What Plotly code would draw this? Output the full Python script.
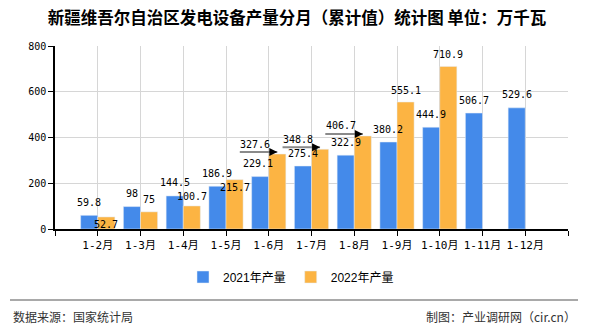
import plotly.graph_objects as go

# ---- data ----
categories = ["1-2月", "1-3月", "1-4月", "1-5月", "1-6月", "1-7月", "1-8月", "1-9月", "1-10月", "1-11月", "1-12月"]
values_2021 = [59.8, 98, 144.5, 186.9, 229.1, 275.4, 322.9, 380.2, 444.9, 506.7, 529.6]
values_2022 = [52.7, 75, 100.7, 215.7, 327.6, 348.8, 406.7, 555.1, 710.9, None, None]
series_names = ["2021年产量", "2022年产量"]
y_ticks = [0, 200, 400, 600, 800]

# ---- label placement (styling, px offsets) ----
label_shift_2021 = [13] * 11
label_xshift_2021 = [0, 0, 0, 0, -2, 0, 0, 0, 0, 0, 0]
label_shift_2022 = [-8, 12, 9, -8, None, None, None, 12, 12, None, None]  # None -> arrow label
arrow_labels_2022 = [4, 5, 6]

W, H = 590, 330
ML, MR, MT, MB = 55, 22, 46, 101
plot_h = H - MT - MB
plot_w = W - ML - MR


def py2paper(py):
    return (H - MB - py) / plot_h


def px2paper(px):
    return (px - ML) / plot_w


BLUE = "#448AEA"
ORANGE = "#FCB443"
MONO = "'DejaVu Sans Mono', 'Noto Sans CJK SC'"
SANS = "'Liberation Sans', 'Noto Sans CJK SC'"

x_idx = list(range(len(categories)))

fig = go.Figure()
fig.add_trace(go.Bar(x=x_idx, y=values_2021, name=series_names[0], marker_color=BLUE,
                     hoverinfo="y"))
fig.add_trace(go.Bar(x=x_idx, y=values_2022, name=series_names[1], marker_color=ORANGE,
                     hoverinfo="y"))

annotations = []
off = 0.2  # half of a bar slot in group mode (bargap 0.2, 2 series)
for i, v in enumerate(values_2021):
    if v is None:
        continue
    annotations.append(dict(x=i - off, y=v, xref="x", yref="y", text=f"{v:g}", showarrow=False,
                            yanchor="middle", yshift=label_shift_2021[i], xshift=label_xshift_2021[i],
                            font=dict(family=MONO, size=10, color="#000")))
for i, v in enumerate(values_2022):
    if v is None:
        continue
    if i in arrow_labels_2022:
        # gray leader line
        annotations.append(dict(x=i + off, y=v, xref="x", yref="y", text="", showarrow=True,
                                ax=-39, ay=0, arrowhead=0, arrowwidth=2, arrowcolor="#8a8a8a",
                                standoff=0, yshift=2))
        # black arrow head
        annotations.append(dict(x=i + off, y=v, xref="x", yref="y", text="", showarrow=True,
                                ax=-4, ay=0, arrowhead=2, arrowsize=0.8, arrowwidth=2,
                                arrowcolor="#000", standoff=0, yshift=2))
        annotations.append(dict(x=i + off, y=v, xref="x", yref="y", text=f"{v:g}", showarrow=False,
                                yanchor="middle", yshift=10, xshift=-22,
                                font=dict(family=MONO, size=10, color="#000")))
    else:
        annotations.append(dict(x=i + off, y=v, xref="x", yref="y", text=f"{v:g}", showarrow=False,
                                yanchor="middle", yshift=label_shift_2022[i],
                                font=dict(family=MONO, size=10, color="#000")))

# footer texts
annotations.append(dict(x=px2paper(11), y=py2paper(316), xref="paper", yref="paper",
                        text="数据来源：国家统计局", showarrow=False, xanchor="left", yanchor="middle",
                        font=dict(family="'Noto Sans CJK SC'", size=12, color="#333")))
annotations.append(dict(x=px2paper(578), y=py2paper(316), xref="paper", yref="paper",
                        text="制图：产业调研网（cir.cn）", showarrow=False, xanchor="right", yanchor="middle",
                        font=dict(family="'Noto Sans CJK SC'", size=12, color="#333")))

shapes = [dict(type="line", xref="paper", yref="paper",
               x0=px2paper(10), x1=px2paper(578), y0=py2paper(300), y1=py2paper(300),
               line=dict(color="#8c8c8c", width=1.5))]

fig.update_layout(
    width=W, height=H,
    margin=dict(l=ML, r=MR, t=MT, b=MB, pad=0),
    paper_bgcolor="white", plot_bgcolor="white",
    barmode="group", bargap=0.2, bargroupgap=0,
    title=dict(text="新疆维吾尔自治区发电设备产量分月（累计值）统计图 单位：万千瓦",
               x=297 / W, xref="container", xanchor="center", y=1 - 18 / H, yanchor="middle",
               font=dict(family="'Noto Sans CJK SC'", size=16.5, color="#000", weight="bold")),
    xaxis=dict(range=[-1, 11], tickmode="array", tickvals=list(range(-1, 12)),
               ticktext=[""] + categories + [""],
               showgrid=True, gridcolor="#d6d6d6", gridwidth=1,
               showline=True, linecolor="#000", linewidth=1.5,
               ticks="outside", ticklen=5, tickcolor="#000", tickwidth=1,
               zeroline=False, fixedrange=True,
               tickfont=dict(family=MONO, size=11, color="#000")),
    yaxis=dict(range=[0, 800], tickmode="array", tickvals=y_ticks,
               showgrid=True, gridcolor="#d6d6d6", gridwidth=1,
               showline=True, linecolor="#000", linewidth=1.5,
               ticks="outside", ticklen=5, tickcolor="#000", tickwidth=1,
               zeroline=False, fixedrange=True,
               tickfont=dict(family=MONO, size=10, color="#000")),
    legend=dict(orientation="h", x=0.5 + (291 - (ML + plot_w / 2)) / plot_w,
                xanchor="center", y=py2paper(277), yanchor="middle",
                font=dict(family=SANS, size=12, color="#000"), itemwidth=30,
                bgcolor="rgba(0,0,0,0)"),
    annotations=annotations,
    shapes=shapes,
    showlegend=True,
)

fig.write_html("out.html")
